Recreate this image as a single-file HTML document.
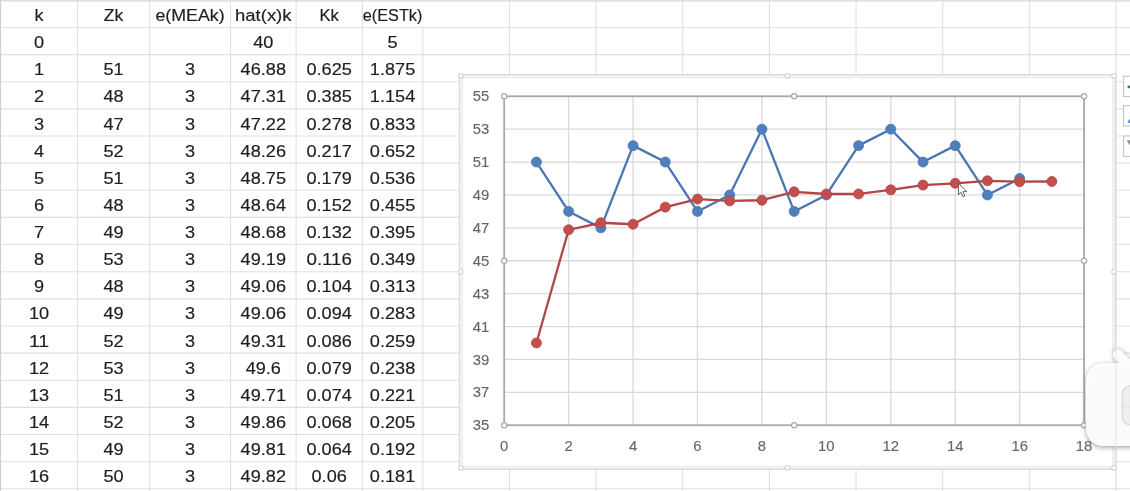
<!DOCTYPE html><html><head><meta charset="utf-8"><style>html,body{margin:0;padding:0;background:#fff;overflow:hidden}svg{display:block;filter:blur(0.5px)}text{font-family:"Liberation Sans",Arial,sans-serif}</style></head><body>
<svg width="1130" height="491" viewBox="0 0 1130 491">
<rect x="0" y="0" width="1130" height="491" fill="#fff"/>
<g stroke="#e0e0e0" stroke-width="1.1"><line x1="0" y1="27.44" x2="1130" y2="27.44"/><line x1="0" y1="54.58" x2="1130" y2="54.58"/><line x1="0" y1="81.72" x2="1130" y2="81.72"/><line x1="0" y1="108.86" x2="1130" y2="108.86"/><line x1="0" y1="136.00" x2="1130" y2="136.00"/><line x1="0" y1="163.14" x2="1130" y2="163.14"/><line x1="0" y1="190.28" x2="1130" y2="190.28"/><line x1="0" y1="217.42" x2="1130" y2="217.42"/><line x1="0" y1="244.56" x2="1130" y2="244.56"/><line x1="0" y1="271.70" x2="1130" y2="271.70"/><line x1="0" y1="298.84" x2="1130" y2="298.84"/><line x1="0" y1="325.98" x2="1130" y2="325.98"/><line x1="0" y1="353.12" x2="1130" y2="353.12"/><line x1="0" y1="380.26" x2="1130" y2="380.26"/><line x1="0" y1="407.40" x2="1130" y2="407.40"/><line x1="0" y1="434.54" x2="1130" y2="434.54"/><line x1="0" y1="461.68" x2="1130" y2="461.68"/><line x1="0" y1="488.82" x2="1130" y2="488.82"/><line x1="77.50" y1="0" x2="77.50" y2="491"/><line x1="149.60" y1="0" x2="149.60" y2="491"/><line x1="230.50" y1="0" x2="230.50" y2="491"/><line x1="296.10" y1="0" x2="296.10" y2="491"/><line x1="362.30" y1="0" x2="362.30" y2="491"/><line x1="422.80" y1="27.44" x2="422.80" y2="491"/><line x1="509.40" y1="0" x2="509.40" y2="491"/><line x1="596.06" y1="0" x2="596.06" y2="491"/><line x1="682.72" y1="0" x2="682.72" y2="491"/><line x1="769.38" y1="0" x2="769.38" y2="491"/><line x1="856.04" y1="0" x2="856.04" y2="491"/><line x1="942.70" y1="0" x2="942.70" y2="491"/><line x1="1029.36" y1="0" x2="1029.36" y2="491"/><line x1="1116.02" y1="0" x2="1116.02" y2="491"/></g>
<rect x="0" y="0" width="1130" height="1.7" fill="#e0e0e0"/>
<rect x="0" y="0" width="1.1" height="491" fill="#d0d0d0"/>
<g font-size="17.4" fill="#1e1e1e" stroke="#1e1e1e" stroke-width="0.18" text-anchor="middle"><text x="39.00" y="20.94" textLength="9.05" lengthAdjust="spacingAndGlyphs">k</text><text x="113.55" y="20.94" textLength="19.44" lengthAdjust="spacingAndGlyphs">Zk</text><text x="190.05" y="20.94" textLength="69.27" lengthAdjust="spacingAndGlyphs">e(MEAk)</text><text x="263.30" y="20.94" textLength="56.42" lengthAdjust="spacingAndGlyphs">hat(x)k</text><text x="329.20" y="20.94" textLength="19.40" lengthAdjust="spacingAndGlyphs">Kk</text><text x="392.58" y="20.94" textLength="59.56" lengthAdjust="spacingAndGlyphs">e(ESTk)</text><text x="39.00" y="48.08" textLength="10.09" lengthAdjust="spacingAndGlyphs">0</text><text x="263.30" y="48.08" textLength="20.18" lengthAdjust="spacingAndGlyphs">40</text><text x="392.55" y="48.08" textLength="10.09" lengthAdjust="spacingAndGlyphs">5</text><text x="39.00" y="75.22" textLength="10.09" lengthAdjust="spacingAndGlyphs">1</text><text x="113.55" y="75.22" textLength="20.18" lengthAdjust="spacingAndGlyphs">51</text><text x="190.05" y="75.22" textLength="10.09" lengthAdjust="spacingAndGlyphs">3</text><text x="263.30" y="75.22" textLength="45.37" lengthAdjust="spacingAndGlyphs">46.88</text><text x="329.20" y="75.22" textLength="45.37" lengthAdjust="spacingAndGlyphs">0.625</text><text x="392.55" y="75.22" textLength="45.37" lengthAdjust="spacingAndGlyphs">1.875</text><text x="39.00" y="102.36" textLength="10.09" lengthAdjust="spacingAndGlyphs">2</text><text x="113.55" y="102.36" textLength="20.18" lengthAdjust="spacingAndGlyphs">48</text><text x="190.05" y="102.36" textLength="10.09" lengthAdjust="spacingAndGlyphs">3</text><text x="263.30" y="102.36" textLength="45.37" lengthAdjust="spacingAndGlyphs">47.31</text><text x="329.20" y="102.36" textLength="45.37" lengthAdjust="spacingAndGlyphs">0.385</text><text x="392.55" y="102.36" textLength="45.37" lengthAdjust="spacingAndGlyphs">1.154</text><text x="39.00" y="129.50" textLength="10.09" lengthAdjust="spacingAndGlyphs">3</text><text x="113.55" y="129.50" textLength="20.18" lengthAdjust="spacingAndGlyphs">47</text><text x="190.05" y="129.50" textLength="10.09" lengthAdjust="spacingAndGlyphs">3</text><text x="263.30" y="129.50" textLength="45.37" lengthAdjust="spacingAndGlyphs">47.22</text><text x="329.20" y="129.50" textLength="45.37" lengthAdjust="spacingAndGlyphs">0.278</text><text x="392.55" y="129.50" textLength="45.37" lengthAdjust="spacingAndGlyphs">0.833</text><text x="39.00" y="156.64" textLength="10.09" lengthAdjust="spacingAndGlyphs">4</text><text x="113.55" y="156.64" textLength="20.18" lengthAdjust="spacingAndGlyphs">52</text><text x="190.05" y="156.64" textLength="10.09" lengthAdjust="spacingAndGlyphs">3</text><text x="263.30" y="156.64" textLength="45.37" lengthAdjust="spacingAndGlyphs">48.26</text><text x="329.20" y="156.64" textLength="45.37" lengthAdjust="spacingAndGlyphs">0.217</text><text x="392.55" y="156.64" textLength="45.37" lengthAdjust="spacingAndGlyphs">0.652</text><text x="39.00" y="183.78" textLength="10.09" lengthAdjust="spacingAndGlyphs">5</text><text x="113.55" y="183.78" textLength="20.18" lengthAdjust="spacingAndGlyphs">51</text><text x="190.05" y="183.78" textLength="10.09" lengthAdjust="spacingAndGlyphs">3</text><text x="263.30" y="183.78" textLength="45.37" lengthAdjust="spacingAndGlyphs">48.75</text><text x="329.20" y="183.78" textLength="45.37" lengthAdjust="spacingAndGlyphs">0.179</text><text x="392.55" y="183.78" textLength="45.37" lengthAdjust="spacingAndGlyphs">0.536</text><text x="39.00" y="210.92" textLength="10.09" lengthAdjust="spacingAndGlyphs">6</text><text x="113.55" y="210.92" textLength="20.18" lengthAdjust="spacingAndGlyphs">48</text><text x="190.05" y="210.92" textLength="10.09" lengthAdjust="spacingAndGlyphs">3</text><text x="263.30" y="210.92" textLength="45.37" lengthAdjust="spacingAndGlyphs">48.64</text><text x="329.20" y="210.92" textLength="45.37" lengthAdjust="spacingAndGlyphs">0.152</text><text x="392.55" y="210.92" textLength="45.37" lengthAdjust="spacingAndGlyphs">0.455</text><text x="39.00" y="238.06" textLength="10.09" lengthAdjust="spacingAndGlyphs">7</text><text x="113.55" y="238.06" textLength="20.18" lengthAdjust="spacingAndGlyphs">49</text><text x="190.05" y="238.06" textLength="10.09" lengthAdjust="spacingAndGlyphs">3</text><text x="263.30" y="238.06" textLength="45.37" lengthAdjust="spacingAndGlyphs">48.68</text><text x="329.20" y="238.06" textLength="45.37" lengthAdjust="spacingAndGlyphs">0.132</text><text x="392.55" y="238.06" textLength="45.37" lengthAdjust="spacingAndGlyphs">0.395</text><text x="39.00" y="265.20" textLength="10.09" lengthAdjust="spacingAndGlyphs">8</text><text x="113.55" y="265.20" textLength="20.18" lengthAdjust="spacingAndGlyphs">53</text><text x="190.05" y="265.20" textLength="10.09" lengthAdjust="spacingAndGlyphs">3</text><text x="263.30" y="265.20" textLength="45.37" lengthAdjust="spacingAndGlyphs">49.19</text><text x="329.20" y="265.20" textLength="45.37" lengthAdjust="spacingAndGlyphs">0.116</text><text x="392.55" y="265.20" textLength="45.37" lengthAdjust="spacingAndGlyphs">0.349</text><text x="39.00" y="292.34" textLength="10.09" lengthAdjust="spacingAndGlyphs">9</text><text x="113.55" y="292.34" textLength="20.18" lengthAdjust="spacingAndGlyphs">48</text><text x="190.05" y="292.34" textLength="10.09" lengthAdjust="spacingAndGlyphs">3</text><text x="263.30" y="292.34" textLength="45.37" lengthAdjust="spacingAndGlyphs">49.06</text><text x="329.20" y="292.34" textLength="45.37" lengthAdjust="spacingAndGlyphs">0.104</text><text x="392.55" y="292.34" textLength="45.37" lengthAdjust="spacingAndGlyphs">0.313</text><text x="39.00" y="319.48" textLength="20.18" lengthAdjust="spacingAndGlyphs">10</text><text x="113.55" y="319.48" textLength="20.18" lengthAdjust="spacingAndGlyphs">49</text><text x="190.05" y="319.48" textLength="10.09" lengthAdjust="spacingAndGlyphs">3</text><text x="263.30" y="319.48" textLength="45.37" lengthAdjust="spacingAndGlyphs">49.06</text><text x="329.20" y="319.48" textLength="45.37" lengthAdjust="spacingAndGlyphs">0.094</text><text x="392.55" y="319.48" textLength="45.37" lengthAdjust="spacingAndGlyphs">0.283</text><text x="39.00" y="346.62" textLength="20.18" lengthAdjust="spacingAndGlyphs">11</text><text x="113.55" y="346.62" textLength="20.18" lengthAdjust="spacingAndGlyphs">52</text><text x="190.05" y="346.62" textLength="10.09" lengthAdjust="spacingAndGlyphs">3</text><text x="263.30" y="346.62" textLength="45.37" lengthAdjust="spacingAndGlyphs">49.31</text><text x="329.20" y="346.62" textLength="45.37" lengthAdjust="spacingAndGlyphs">0.086</text><text x="392.55" y="346.62" textLength="45.37" lengthAdjust="spacingAndGlyphs">0.259</text><text x="39.00" y="373.76" textLength="20.18" lengthAdjust="spacingAndGlyphs">12</text><text x="113.55" y="373.76" textLength="20.18" lengthAdjust="spacingAndGlyphs">53</text><text x="190.05" y="373.76" textLength="10.09" lengthAdjust="spacingAndGlyphs">3</text><text x="263.30" y="373.76" textLength="35.28" lengthAdjust="spacingAndGlyphs">49.6</text><text x="329.20" y="373.76" textLength="45.37" lengthAdjust="spacingAndGlyphs">0.079</text><text x="392.55" y="373.76" textLength="45.37" lengthAdjust="spacingAndGlyphs">0.238</text><text x="39.00" y="400.90" textLength="20.18" lengthAdjust="spacingAndGlyphs">13</text><text x="113.55" y="400.90" textLength="20.18" lengthAdjust="spacingAndGlyphs">51</text><text x="190.05" y="400.90" textLength="10.09" lengthAdjust="spacingAndGlyphs">3</text><text x="263.30" y="400.90" textLength="45.37" lengthAdjust="spacingAndGlyphs">49.71</text><text x="329.20" y="400.90" textLength="45.37" lengthAdjust="spacingAndGlyphs">0.074</text><text x="392.55" y="400.90" textLength="45.37" lengthAdjust="spacingAndGlyphs">0.221</text><text x="39.00" y="428.04" textLength="20.18" lengthAdjust="spacingAndGlyphs">14</text><text x="113.55" y="428.04" textLength="20.18" lengthAdjust="spacingAndGlyphs">52</text><text x="190.05" y="428.04" textLength="10.09" lengthAdjust="spacingAndGlyphs">3</text><text x="263.30" y="428.04" textLength="45.37" lengthAdjust="spacingAndGlyphs">49.86</text><text x="329.20" y="428.04" textLength="45.37" lengthAdjust="spacingAndGlyphs">0.068</text><text x="392.55" y="428.04" textLength="45.37" lengthAdjust="spacingAndGlyphs">0.205</text><text x="39.00" y="455.18" textLength="20.18" lengthAdjust="spacingAndGlyphs">15</text><text x="113.55" y="455.18" textLength="20.18" lengthAdjust="spacingAndGlyphs">49</text><text x="190.05" y="455.18" textLength="10.09" lengthAdjust="spacingAndGlyphs">3</text><text x="263.30" y="455.18" textLength="45.37" lengthAdjust="spacingAndGlyphs">49.81</text><text x="329.20" y="455.18" textLength="45.37" lengthAdjust="spacingAndGlyphs">0.064</text><text x="392.55" y="455.18" textLength="45.37" lengthAdjust="spacingAndGlyphs">0.192</text><text x="39.00" y="482.32" textLength="20.18" lengthAdjust="spacingAndGlyphs">16</text><text x="113.55" y="482.32" textLength="20.18" lengthAdjust="spacingAndGlyphs">50</text><text x="190.05" y="482.32" textLength="10.09" lengthAdjust="spacingAndGlyphs">3</text><text x="263.30" y="482.32" textLength="45.37" lengthAdjust="spacingAndGlyphs">49.82</text><text x="329.20" y="482.32" textLength="35.28" lengthAdjust="spacingAndGlyphs">0.06</text><text x="392.55" y="482.32" textLength="45.37" lengthAdjust="spacingAndGlyphs">0.181</text></g>
<rect x="459.6" y="74.8" width="655.80" height="394.20" fill="#fff" stroke="#dadada" stroke-width="1.6"/>
<rect x="462.3" y="77.4" width="650.70" height="389.20" fill="none" stroke="#ebebeb" stroke-width="1.5"/>
<g stroke="#d9d9d9" stroke-width="1.3"><line x1="504.2" y1="392.31" x2="1084.1" y2="392.31"/><line x1="504.2" y1="359.42" x2="1084.1" y2="359.42"/><line x1="504.2" y1="326.53" x2="1084.1" y2="326.53"/><line x1="504.2" y1="293.64" x2="1084.1" y2="293.64"/><line x1="504.2" y1="260.75" x2="1084.1" y2="260.75"/><line x1="504.2" y1="227.86" x2="1084.1" y2="227.86"/><line x1="504.2" y1="194.97" x2="1084.1" y2="194.97"/><line x1="504.2" y1="162.08" x2="1084.1" y2="162.08"/><line x1="504.2" y1="129.19" x2="1084.1" y2="129.19"/><line x1="568.63" y1="96.3" x2="568.63" y2="425.2"/><line x1="633.07" y1="96.3" x2="633.07" y2="425.2"/><line x1="697.50" y1="96.3" x2="697.50" y2="425.2"/><line x1="761.93" y1="96.3" x2="761.93" y2="425.2"/><line x1="826.37" y1="96.3" x2="826.37" y2="425.2"/><line x1="890.80" y1="96.3" x2="890.80" y2="425.2"/><line x1="955.23" y1="96.3" x2="955.23" y2="425.2"/><line x1="1019.67" y1="96.3" x2="1019.67" y2="425.2"/></g>
<rect x="504.2" y="96.3" width="579.90" height="328.90" fill="none" stroke="#a8a8a8" stroke-width="1.8"/>
<g font-size="14.4" fill="#656565" stroke="#656565" stroke-width="0.12"><text x="472.87" y="430.30" textLength="16.53" lengthAdjust="spacingAndGlyphs">35</text><text x="472.87" y="397.41" textLength="16.53" lengthAdjust="spacingAndGlyphs">37</text><text x="472.87" y="364.52" textLength="16.53" lengthAdjust="spacingAndGlyphs">39</text><text x="472.87" y="331.63" textLength="16.53" lengthAdjust="spacingAndGlyphs">41</text><text x="472.87" y="298.74" textLength="16.53" lengthAdjust="spacingAndGlyphs">43</text><text x="472.87" y="265.85" textLength="16.53" lengthAdjust="spacingAndGlyphs">45</text><text x="472.87" y="232.96" textLength="16.53" lengthAdjust="spacingAndGlyphs">47</text><text x="472.87" y="200.07" textLength="16.53" lengthAdjust="spacingAndGlyphs">49</text><text x="472.87" y="167.18" textLength="16.53" lengthAdjust="spacingAndGlyphs">51</text><text x="472.87" y="134.29" textLength="16.53" lengthAdjust="spacingAndGlyphs">53</text><text x="472.87" y="101.40" textLength="16.53" lengthAdjust="spacingAndGlyphs">55</text><text x="500.07" y="451.30" textLength="8.26" lengthAdjust="spacingAndGlyphs">0</text><text x="564.50" y="451.30" textLength="8.26" lengthAdjust="spacingAndGlyphs">2</text><text x="628.93" y="451.30" textLength="8.26" lengthAdjust="spacingAndGlyphs">4</text><text x="693.37" y="451.30" textLength="8.26" lengthAdjust="spacingAndGlyphs">6</text><text x="757.80" y="451.30" textLength="8.26" lengthAdjust="spacingAndGlyphs">8</text><text x="818.10" y="451.30" textLength="16.53" lengthAdjust="spacingAndGlyphs">10</text><text x="882.54" y="451.30" textLength="16.53" lengthAdjust="spacingAndGlyphs">12</text><text x="946.97" y="451.30" textLength="16.53" lengthAdjust="spacingAndGlyphs">14</text><text x="1011.40" y="451.30" textLength="16.53" lengthAdjust="spacingAndGlyphs">16</text><text x="1075.84" y="451.30" textLength="16.53" lengthAdjust="spacingAndGlyphs">18</text></g>
<polyline points="536.42,162.08 568.63,211.41 600.85,227.86 633.07,145.64 665.28,162.08 697.50,211.41 729.72,194.97 761.93,129.19 794.15,211.41 826.37,194.97 858.58,145.64 890.80,129.19 923.02,162.08 955.23,145.64 987.45,194.97 1019.67,178.52" fill="none" stroke="#4876b2" stroke-width="2.3" stroke-linejoin="round"/><circle cx="536.42" cy="162.08" r="5.0" fill="#4e80be" stroke="#4876b2" stroke-width="0.8"/><circle cx="568.63" cy="211.41" r="5.0" fill="#4e80be" stroke="#4876b2" stroke-width="0.8"/><circle cx="600.85" cy="227.86" r="5.0" fill="#4e80be" stroke="#4876b2" stroke-width="0.8"/><circle cx="633.07" cy="145.64" r="5.0" fill="#4e80be" stroke="#4876b2" stroke-width="0.8"/><circle cx="665.28" cy="162.08" r="5.0" fill="#4e80be" stroke="#4876b2" stroke-width="0.8"/><circle cx="697.50" cy="211.41" r="5.0" fill="#4e80be" stroke="#4876b2" stroke-width="0.8"/><circle cx="729.72" cy="194.97" r="5.0" fill="#4e80be" stroke="#4876b2" stroke-width="0.8"/><circle cx="761.93" cy="129.19" r="5.0" fill="#4e80be" stroke="#4876b2" stroke-width="0.8"/><circle cx="794.15" cy="211.41" r="5.0" fill="#4e80be" stroke="#4876b2" stroke-width="0.8"/><circle cx="826.37" cy="194.97" r="5.0" fill="#4e80be" stroke="#4876b2" stroke-width="0.8"/><circle cx="858.58" cy="145.64" r="5.0" fill="#4e80be" stroke="#4876b2" stroke-width="0.8"/><circle cx="890.80" cy="129.19" r="5.0" fill="#4e80be" stroke="#4876b2" stroke-width="0.8"/><circle cx="923.02" cy="162.08" r="5.0" fill="#4e80be" stroke="#4876b2" stroke-width="0.8"/><circle cx="955.23" cy="145.64" r="5.0" fill="#4e80be" stroke="#4876b2" stroke-width="0.8"/><circle cx="987.45" cy="194.97" r="5.0" fill="#4e80be" stroke="#4876b2" stroke-width="0.8"/><circle cx="1019.67" cy="178.52" r="5.0" fill="#4e80be" stroke="#4876b2" stroke-width="0.8"/>
<polyline points="536.42,342.98 568.63,229.83 600.85,222.76 633.07,224.24 665.28,207.14 697.50,199.08 729.72,200.89 761.93,200.23 794.15,191.85 826.37,193.98 858.58,193.98 890.80,189.87 923.02,185.10 955.23,183.29 987.45,180.83 1019.67,181.65 1051.88,181.49" fill="none" stroke="#b24646" stroke-width="2.3" stroke-linejoin="round"/><circle cx="536.42" cy="342.98" r="5.0" fill="#c34f4c" stroke="#b24646" stroke-width="0.8"/><circle cx="568.63" cy="229.83" r="5.0" fill="#c34f4c" stroke="#b24646" stroke-width="0.8"/><circle cx="600.85" cy="222.76" r="5.0" fill="#c34f4c" stroke="#b24646" stroke-width="0.8"/><circle cx="633.07" cy="224.24" r="5.0" fill="#c34f4c" stroke="#b24646" stroke-width="0.8"/><circle cx="665.28" cy="207.14" r="5.0" fill="#c34f4c" stroke="#b24646" stroke-width="0.8"/><circle cx="697.50" cy="199.08" r="5.0" fill="#c34f4c" stroke="#b24646" stroke-width="0.8"/><circle cx="729.72" cy="200.89" r="5.0" fill="#c34f4c" stroke="#b24646" stroke-width="0.8"/><circle cx="761.93" cy="200.23" r="5.0" fill="#c34f4c" stroke="#b24646" stroke-width="0.8"/><circle cx="794.15" cy="191.85" r="5.0" fill="#c34f4c" stroke="#b24646" stroke-width="0.8"/><circle cx="826.37" cy="193.98" r="5.0" fill="#c34f4c" stroke="#b24646" stroke-width="0.8"/><circle cx="858.58" cy="193.98" r="5.0" fill="#c34f4c" stroke="#b24646" stroke-width="0.8"/><circle cx="890.80" cy="189.87" r="5.0" fill="#c34f4c" stroke="#b24646" stroke-width="0.8"/><circle cx="923.02" cy="185.10" r="5.0" fill="#c34f4c" stroke="#b24646" stroke-width="0.8"/><circle cx="955.23" cy="183.29" r="5.0" fill="#c34f4c" stroke="#b24646" stroke-width="0.8"/><circle cx="987.45" cy="180.83" r="5.0" fill="#c34f4c" stroke="#b24646" stroke-width="0.8"/><circle cx="1019.67" cy="181.65" r="5.0" fill="#c34f4c" stroke="#b24646" stroke-width="0.8"/><circle cx="1051.88" cy="181.49" r="5.0" fill="#c34f4c" stroke="#b24646" stroke-width="0.8"/>
<circle cx="504.20" cy="96.30" r="2.6" fill="#fff" stroke="#a8a8a8" stroke-width="1.2"/><circle cx="794.15" cy="96.30" r="2.6" fill="#fff" stroke="#a8a8a8" stroke-width="1.2"/><circle cx="1084.10" cy="96.30" r="2.6" fill="#fff" stroke="#a8a8a8" stroke-width="1.2"/><circle cx="504.20" cy="260.75" r="2.6" fill="#fff" stroke="#a8a8a8" stroke-width="1.2"/><circle cx="1084.10" cy="260.75" r="2.6" fill="#fff" stroke="#a8a8a8" stroke-width="1.2"/><circle cx="504.20" cy="425.20" r="2.6" fill="#fff" stroke="#a8a8a8" stroke-width="1.2"/><circle cx="794.15" cy="425.20" r="2.6" fill="#fff" stroke="#a8a8a8" stroke-width="1.2"/><circle cx="1084.10" cy="425.20" r="2.6" fill="#fff" stroke="#a8a8a8" stroke-width="1.2"/><circle cx="460.80" cy="75.80" r="2.3" fill="#fff" stroke="#d4d4d4" stroke-width="1.1"/><circle cx="787.40" cy="75.80" r="2.3" fill="#fff" stroke="#d4d4d4" stroke-width="1.1"/><circle cx="1114.00" cy="75.80" r="2.3" fill="#fff" stroke="#d4d4d4" stroke-width="1.1"/><circle cx="460.80" cy="271.80" r="2.3" fill="#fff" stroke="#d4d4d4" stroke-width="1.1"/><circle cx="1114.00" cy="271.80" r="2.3" fill="#fff" stroke="#d4d4d4" stroke-width="1.1"/><circle cx="460.80" cy="467.80" r="2.3" fill="#fff" stroke="#d4d4d4" stroke-width="1.1"/><circle cx="787.40" cy="467.80" r="2.3" fill="#fff" stroke="#d4d4d4" stroke-width="1.1"/><circle cx="1114.00" cy="467.80" r="2.3" fill="#fff" stroke="#d4d4d4" stroke-width="1.1"/>
<rect x="1123.6" y="76.2" width="14" height="20.4" fill="#fff" stroke="#c4c4c4" stroke-width="1.1"/>
<rect x="1123.6" y="105.6" width="14" height="20.4" fill="#fff" stroke="#c4c4c4" stroke-width="1.1"/>
<rect x="1123.6" y="136.0" width="14" height="20.4" fill="#fff" stroke="#c4c4c4" stroke-width="1.1"/>
<rect x="1127.6" y="85.6" width="3" height="2.6" fill="#2f7a73"/>
<path d="M1127.3 122.5 L1130 118.5 L1130 123 Z" fill="#4a86c5"/>
<path d="M1126.6 140.2 L1130 140.2 L1130 145.5 Z" fill="#8a8a8a"/>
<path d="M958.4 183.2 L958.4 194.8 L961 192.3 L963.1 196.8 L964.9 196 L962.9 191.6 L966.9 191.6 Z" fill="#fff" stroke="#555" stroke-width="0.9" stroke-linejoin="round"/>
<defs><filter id="sh" x="-50%" y="-50%" width="200%" height="200%"><feGaussianBlur stdDeviation="2.6"/></filter></defs>
<g opacity="0.8" filter="url(#sh)"><rect x="1086" y="364.5" width="70" height="83" rx="17" fill="#8a8a8a"/><line x1="1118" y1="354.5" x2="1127" y2="364" stroke="#9a9a9a" stroke-width="10.5" stroke-linecap="round"/></g>
<g opacity="0.95"><rect x="1086" y="363" width="70" height="83" rx="17" fill="#fff"/><line x1="1118" y1="354.5" x2="1127" y2="364" stroke="#fff" stroke-width="10.5" stroke-linecap="round"/></g>
<line x1="1115.8" y1="340" x2="1115.8" y2="491" stroke="#e4e4e4" stroke-width="1"/>
<rect x="1122.3" y="385.8" width="20" height="39.2" rx="8" fill="#eeeeee" stroke="#d4d4d4" stroke-width="1.1"/>
<line x1="1123" y1="407.2" x2="1130" y2="407.2" stroke="#e2e2e2" stroke-width="1"/>
</svg></body></html>
